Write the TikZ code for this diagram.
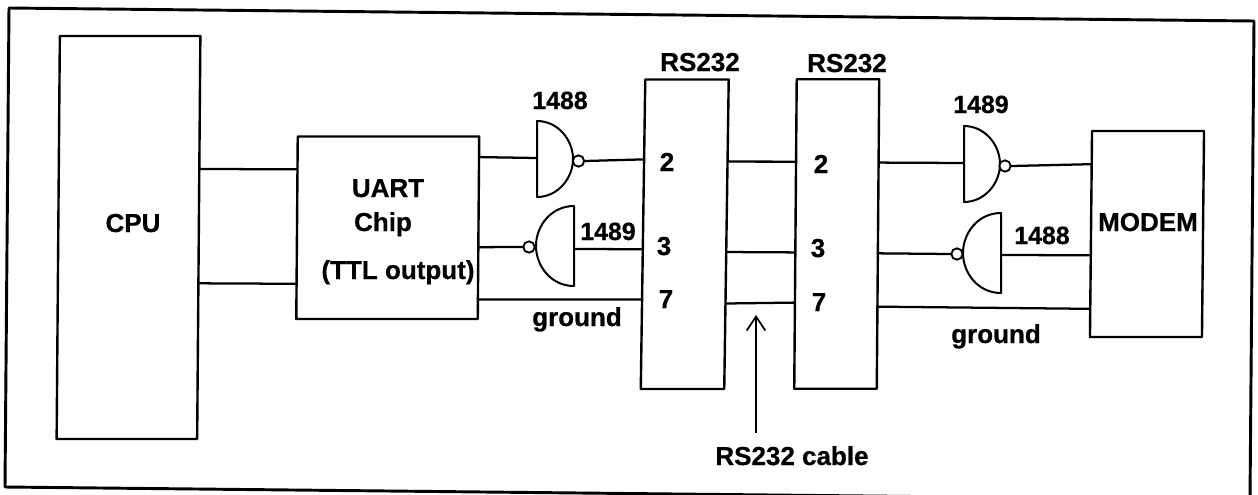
\documentclass[tikz,border=0pt]{standalone}
\usepackage{fontspec}
\setmainfont[BoldFeatures={FakeBold=0.6}]{Liberation Sans}
\usetikzlibrary{calc,arrows.meta}
\tikzset{
  wire/.style={line width=1.7pt,line cap=round},
  boxnode/.style={draw,line width=1.8pt,inner sep=0pt,transform shape,line join=round},
  gatebody/.style={draw,line width=1.5pt,line join=round},
  bubble/.style={circle,draw,line width=1.4pt,fill=white,inner sep=0pt,minimum size=8.5pt},
  lab/.style={anchor=base,inner sep=0pt,font=\bfseries\fontsize{19.5}{22}\selectfont},
  num/.style={anchor=base,inner sep=0pt,font=\bfseries\fontsize{18.7}{22}\selectfont},
  nandr/.pic={\path[gatebody] (-36,-38) .. controls (-15,-38) and (0,-19) .. (0,0) .. controls (0,19) and (-15,38) .. (-36,38) -- cycle;},
  nandl/.pic={\path[gatebody] (38,-40) .. controls (15,-40) and (0,-20) .. (0,0) .. controls (0,20) and (15,40) .. (38,40) -- cycle;}
}
\begin{document}
\begin{tikzpicture}[x=0.75pt,y=-0.75pt]
\useasboundingbox (0,0) rectangle (1258,494);
\clip (0,0) rectangle (1258,494);
% outer frame
\draw[line width=2.2pt,line join=round] (9,8) -- (1254,21) -- (1250,500) -- (5,487) -- cycle;
% boxes
\node[boxnode,minimum width=105.4pt,minimum height=302.3pt,xslant=0.008] (cpu) at (128.5,237.5) {};
\node[boxnode,minimum width=136.1pt,minimum height=136.9pt,xslant=0.008] (uart) at (387.75,227.75) {};
\node[boxnode,minimum width=62.6pt,minimum height=232.1pt,xslant=0.0145] (rsa) at (684.75,234.25) {};
\node[boxnode,minimum width=61.9pt,minimum height=232.1pt,xslant=0.008] (rsb) at (836.75,234) {};
\node[boxnode,minimum width=84pt,minimum height=154.5pt,xslant=0.01] (modem) at (1147,234) {};
% gates
\pic at (573,159) {nandr};
\pic at (536,246) {nandl};
\pic at (1000,164) {nandr};
\pic at (963,253) {nandl};
\node[bubble] (b1) at (578.5,161) {};
\node[bubble] (b2) at (529,247) {};
\node[bubble] (b3) at (1005,166) {};
\node[bubble] (b4) at (957,254) {};
\coordinate (g1in) at (537,158);
\coordinate (g2out) at (574,249);
\coordinate (g3in) at (964,163);
\coordinate (g4out) at (1001,255);
% wires CPU - UART
\draw[wire] ($(cpu.north east)!0.331!(cpu.south east)$) -- ($(uart.north west)!0.184!(uart.south west)$);
\draw[wire] ($(cpu.north east)!0.613!(cpu.south east)$) -- ($(uart.north west)!0.803!(uart.south west)$);
% UART side
\draw[wire] ($(uart.north east)!0.118!(uart.south east)$) -- (g1in);
\draw[wire] (b1.east) -- ($(rsa.north west)!0.26!(rsa.south west)$);
\draw[wire] ($(uart.north east)!0.605!(uart.south east)$) -- (b2.west);
\draw[wire] (g2out) -- ($(rsa.north west)!0.548!(rsa.south west)$);
\draw[wire] ($(uart.north east)!0.888!(uart.south east)$) -- ($(rsa.north west)!0.709!(rsa.south west)$);
% cable
\draw[wire] ($(rsa.north east)!0.267!(rsa.south east)$) -- ($(rsb.north west)!0.268!(rsb.south west)$);
\draw[wire] ($(rsa.north east)!0.557!(rsa.south east)$) -- ($(rsb.north west)!0.559!(rsb.south west)$);
\draw[wire] ($(rsa.north east)!0.722!(rsa.south east)$) -- ($(rsb.north west)!0.72!(rsb.south west)$);
% modem side
\draw[wire] ($(rsb.north east)!0.271!(rsb.south east)$) -- (g3in);
\draw[wire] (b3.east) -- ($(modem.north west)!0.165!(modem.south west)$);
\draw[wire] ($(rsb.north east)!0.562!(rsb.south east)$) -- (b4.west);
\draw[wire] (g4out) -- ($(modem.north west)!0.602!(modem.south west)$);
\draw[wire] ($(rsb.north east)!0.733!(rsb.south east)$) -- ($(modem.north west)!0.859!(modem.south west)$);
% labels
\node[lab] (tcpu) at (133,232) {CPU};
\node[lab] (tuart) at (388,197) {UART};
\node[lab] (tchip) at (383,231) {Chip};
\node[lab] (tttl) at (398,279) {(TTL output)};
\node[lab] (trsa) at (700,71) {RS232};
\node[lab] (trsb) at (847,72) {RS232};
\node[num] (n1) at (560,109) {1488};
\node[num] (n2) at (608,240) {1489};
\node[num] (n3) at (981,113) {1489};
\node[num] (n4) at (1042,244) {1488};
\node[lab] (gnda) at (577,326) {ground};
\node[lab] (gndb) at (996,343) {ground};
\node[lab] (a2) at (667,171) {2};
\node[lab] (a3) at (664,255) {3};
\node[lab] (a7) at (666,308) {7};
\node[lab] (c2) at (821,173) {2};
\node[lab] (c3) at (818,257) {3};
\node[lab] (c7) at (819,311) {7};
\node[lab] (tmodem) at (1148,231) {MODEM};
\node[lab] (tcable) at (792,465) {RS232 cable};
\coordinate (atail) at (756,433);
\coordinate (ahead) at (756,315);
\draw[line width=1.3pt,-{Straight Barb[length=10.5pt,width=14pt]}] (atail) -- (ahead);
\end{tikzpicture}
\end{document}
